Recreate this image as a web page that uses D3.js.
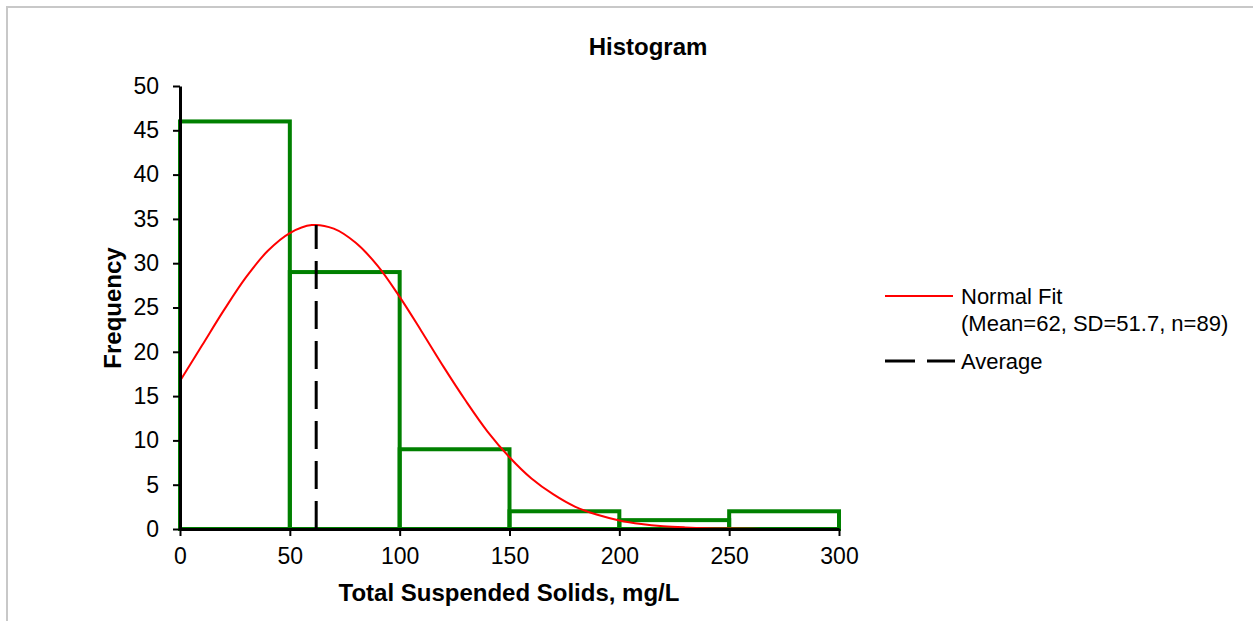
<!DOCTYPE html>
<html>
<head>
<meta charset="utf-8">
<script src="https://cdn.jsdelivr.net/npm/d3@7"></script>
<style>
  body { margin: 0; background: #fff; }
  text { font-family: "Liberation Sans", Arial, sans-serif; }
</style>
</head>
<body>
<script>
// histogram bins (mg/L) and counts
const binStarts = [0, 50, 100, 150, 200, 250];
const binWidth = 50;
const counts = [46, 29, 9, 2, 1, 2];

// normal fit curve, every 10 mg/L
const fitX = [0, 10, 20, 30, 40, 50, 60, 70, 80, 90, 100, 110, 120, 130, 140, 150,
  160, 170, 180, 190, 200, 210, 220, 230, 240, 250, 260, 270, 280, 290, 300];
const fitY = [16.7, 20.7, 24.7, 28.4, 31.4, 33.4, 34.3, 33.9, 32.3, 29.7, 26.2, 22.3, 18.3, 14.5, 11.0, 8.1,
  5.7, 3.9, 2.5, 1.6, 0.97, 0.57, 0.32, 0.18, 0.09, 0.05, 0.02, 0.01, 0, 0, 0];

const average = 62;
const averageTop = 34.3;

const xTicks = [0, 50, 100, 150, 200, 250, 300];
const yTicks = [0, 5, 10, 15, 20, 25, 30, 35, 40, 45, 50];

const width = 1253;
const height = 621;

const x = d3.scaleLinear().domain([0, 300]).range([180, 839]);
const y = d3.scaleLinear().domain([0, 50]).range([529, 86]);

const svg = d3.select("body").append("svg")
  .attr("width", width)
  .attr("height", height);

// outer frame
svg.append("path")
  .attr("d", "M7," + height + "V7H" + width)
  .attr("fill", "none")
  .attr("stroke", "#c8c8c8")
  .attr("stroke-width", 2);

// title
svg.append("text")
  .attr("x", 648).attr("y", 55)
  .attr("text-anchor", "middle")
  .style("font-size", "24px").style("font-weight", "bold")
  .text("Histogram");

// bars as outlines
svg.selectAll("rect.bar")
  .data(counts)
  .enter()
    .append("rect")
    .attr("class", "bar")
    .attr("x", function (d, i) { return x(binStarts[i]); })
    .attr("width", function (d, i) { return x(binStarts[i] + binWidth) - x(binStarts[i]); })
    .attr("y", function (d) { return y(d); })
    .attr("height", function (d) { return y(0) - y(d); })
    .attr("fill", "none")
    .attr("stroke", "#008000")
    .attr("stroke-width", 4);

// normal fit
const line = d3.line()
  .x(function (d, i) { return x(fitX[i]); })
  .y(function (d) { return y(d); })
  .curve(d3.curveCatmullRom);

svg.append("path")
  .datum(fitY)
  .attr("d", line)
  .attr("fill", "none")
  .attr("stroke", "#ff0000")
  .attr("stroke-width", 2);

// average line
svg.append("line")
  .attr("x1", x(average)).attr("x2", x(average))
  .attr("y1", y(0)).attr("y2", y(averageTop))
  .attr("stroke", "#000")
  .attr("stroke-width", 3)
  .attr("stroke-dasharray", "28,12");

// axes
const xAxis = svg.append("g")
  .attr("transform", "translate(0," + y(0) + ")")
  .call(d3.axisBottom(x).tickValues(xTicks).tickSize(7).tickPadding(12).tickSizeOuter(0));
const yAxis = svg.append("g")
  .attr("transform", "translate(" + x(0) + ",0)")
  .call(d3.axisLeft(y).tickValues(yTicks).tickSize(7).tickPadding(14).tickSizeOuter(0));

[xAxis, yAxis].forEach(function (g) {
  g.select(".domain").attr("stroke", "#000").attr("stroke-width", 3);
  g.selectAll(".tick line").attr("stroke", "#000").attr("stroke-width", 2);
  g.selectAll(".tick text")
    .attr("fill", "#000")
    .style("font-size", "23px")
    .style("font-family", "'Liberation Sans', Arial, sans-serif");
});

// axis titles
svg.append("text")
  .attr("x", 509).attr("y", 601)
  .attr("text-anchor", "middle")
  .style("font-size", "24px").style("font-weight", "bold")
  .text("Total Suspended Solids, mg/L");

svg.append("text")
  .attr("transform", "translate(121,308) rotate(-90)")
  .attr("text-anchor", "middle")
  .style("font-size", "24px").style("font-weight", "bold")
  .text("Frequency");

// legend
const legend = svg.append("g");
legend.append("line")
  .attr("x1", 885).attr("x2", 953).attr("y1", 296).attr("y2", 296)
  .attr("stroke", "#ff0000").attr("stroke-width", 2);
legend.append("text")
  .attr("x", 961).attr("y", 304)
  .style("font-size", "22px")
  .text("Normal Fit");
legend.append("text")
  .attr("x", 961).attr("y", 331)
  .style("font-size", "22px")
  .text("(Mean=62, SD=51.7, n=89)");
legend.append("line")
  .attr("x1", 885).attr("x2", 955).attr("y1", 361).attr("y2", 361)
  .attr("stroke", "#000").attr("stroke-width", 3)
  .attr("stroke-dasharray", "30,12");
legend.append("text")
  .attr("x", 961).attr("y", 369)
  .style("font-size", "22px")
  .text("Average");
</script>
</body>
</html>
